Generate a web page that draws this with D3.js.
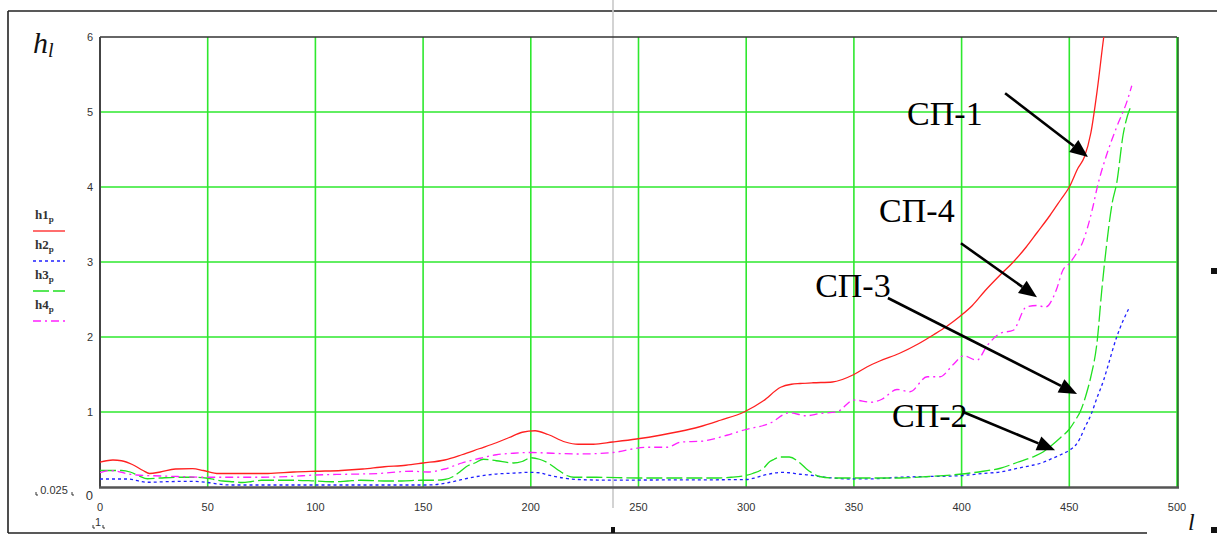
<!DOCTYPE html>
<html><head><meta charset="utf-8">
<script src="https://cdn.jsdelivr.net/npm/d3@7/dist/d3.min.js"></script>
<style>
html,body{margin:0;padding:0;background:#fff;}
svg{display:block;}
</style></head>
<body>
<svg id="c" width="1217" height="535"></svg>
<script>
// ---- data ----
const xTicks = [0,50,100,150,200,250,300,350,400,450,500];
const yTicks = [1,2,3,4,5,6];

const h1X = [0,3,6,10,15,20,23,28,35,43,48,55,65,78,90,100,112,122,132,142,150,160,168,176,184,190,196,202,208,216,222,229,238,249,260,269,278,288,299,308,316,321,325,331,340,350,356,362,371,380,387,393,399,405,411,418,424,430,435,441,446,450,454,457,460,463,466,468];
const h1Y = [0.33,0.35,0.36,0.35,0.30,0.22,0.18,0.20,0.24,0.245,0.22,0.18,0.18,0.18,0.20,0.21,0.22,0.24,0.27,0.29,0.32,0.36,0.43,0.51,0.59,0.66,0.73,0.75,0.70,0.60,0.57,0.57,0.60,0.64,0.69,0.74,0.80,0.89,1.00,1.15,1.33,1.37,1.38,1.39,1.40,1.50,1.60,1.68,1.78,1.91,2.03,2.14,2.27,2.42,2.62,2.83,3.00,3.20,3.39,3.62,3.83,4.00,4.25,4.40,4.72,5.30,6.00,6.40];

const h2X = [0,5,13,18,22,30,42,49,55,60,80,100,120,140,152,158,162,167,175,184,192,199,204,208,215,222,231,250,270,290,300,304,308,312,316,320,325,329,334,340,348,360,371,385,399,410,418,426,433,438,442,446,450,453,455,457,460,463,466,468,472,475,478];
const h2Y = [0.107,0.107,0.107,0.08,0.063,0.07,0.076,0.063,0.04,0.027,0.027,0.027,0.027,0.027,0.027,0.04,0.06,0.093,0.14,0.173,0.185,0.195,0.19,0.16,0.12,0.10,0.093,0.093,0.095,0.097,0.10,0.12,0.156,0.18,0.195,0.19,0.17,0.16,0.14,0.12,0.107,0.11,0.13,0.14,0.15,0.18,0.20,0.25,0.29,0.33,0.38,0.43,0.49,0.56,0.65,0.78,0.96,1.20,1.43,1.62,2.00,2.22,2.40];

const h3X = [0,5,10,14,18,22,28,36,42,49,53,57,62,66,70,75,90,100,109,115,121,132,140,149,155,160,164,167,170,174,178,184,192,196,200,204,208,213,217,220,230,250,270,285,293,299,303,308,311,313,316,320,325,328,331,334,340,350,371,385,399,410,418,426,433,438,442,446,450,453,455,458,460,463,465,467,470,472,475,477,479];
const h3Y = [0.22,0.22,0.22,0.20,0.15,0.11,0.12,0.13,0.13,0.12,0.10,0.08,0.07,0.06,0.07,0.09,0.09,0.08,0.07,0.08,0.09,0.08,0.08,0.09,0.09,0.10,0.14,0.20,0.27,0.32,0.37,0.35,0.32,0.34,0.39,0.37,0.32,0.22,0.15,0.13,0.13,0.12,0.12,0.12,0.13,0.15,0.18,0.25,0.34,0.37,0.40,0.40,0.32,0.24,0.18,0.14,0.12,0.12,0.12,0.14,0.17,0.21,0.25,0.33,0.40,0.47,0.56,0.66,0.77,0.90,1.00,1.25,1.47,1.96,2.60,3.15,3.80,4.05,4.70,4.95,5.10];

const h4X = [0,4,8,12,17,25,36,49,60,75,88,100,115,129,145,152,160,168,176,184,192,200,210,222,238,254,263,270,279,291,299,311,320,328,334,342,350,358,363,370,376,384,390,396,401,407,412,418,424,430,435,439,444,447,450,453,456,461,463,467,472,477,479];
const h4Y = [0.19,0.22,0.21,0.18,0.16,0.15,0.14,0.13,0.13,0.13,0.14,0.16,0.17,0.18,0.21,0.20,0.24,0.32,0.38,0.43,0.45,0.46,0.45,0.44,0.46,0.53,0.53,0.60,0.61,0.69,0.76,0.85,0.99,0.95,0.98,1.00,1.16,1.13,1.17,1.30,1.27,1.47,1.47,1.63,1.75,1.69,1.89,2.05,2.09,2.40,2.42,2.40,2.63,2.89,2.98,3.10,3.25,3.74,4.00,4.40,4.80,5.16,5.35];

const legendNames = ["h1","h2","h3","h4"];
const seriesColors = ["#ff2020","#2020ff","#20e020","#ff20ff"];
const seriesDash = [null,"3,3","16,4","8,4,2,4"];

// annotations: label, label pos (l,h), arrow from (l,h) to (l,h)
const annLabels = ["СП-1","СП-4","СП-3","СП-2"];
const annText = [[374.7,4.83],[361.7,3.53],[332,2.53],[367.7,0.80]];
const annFrom = [[420.2,5.25],[399.7,3.25],[365.8,2.52],[400.7,1.00]];
const annTo   = [[458.7,4.40],[435.0,2.53],[453.6,1.24],[443.4,0.49]];

// ---- drawing ----
const svg = d3.select("#c");
const x = d3.scaleLinear().domain([0,500]).range([100,1177]);
const y = d3.scaleLinear().domain([0,6]).range([487,37]);

// outer frame
svg.append("line").attr("x1",8).attr("x2",1217).attr("y1",11).attr("y2",11).attr("stroke","#222").attr("stroke-width",1.6);
svg.append("line").attr("x1",8).attr("x2",8).attr("y1",11).attr("y2",533).attr("stroke","#222").attr("stroke-width",1.6);
svg.append("line").attr("x1",8).attr("x2",1147).attr("y1",533).attr("y2",533).attr("stroke","#222").attr("stroke-width",1.6);
// seam line
svg.append("line").attr("x1",613).attr("x2",613).attr("y1",0).attr("y2",508).attr("stroke","#c8c8c8").attr("stroke-width",1.6);
svg.append("rect").attr("x",611).attr("y",527).attr("width",4).attr("height",6).attr("fill","#111");
svg.append("rect").attr("x",1211).attr("y",268).attr("width",6).attr("height",6).attr("fill","#111");
svg.append("rect").attr("x",1211).attr("y",527).attr("width",6).attr("height",6).attr("fill","#111");

// grid
const grid = svg.append("g");
grid.selectAll("line.v").data(xTicks.filter(d=>d>0)).join("line")
  .attr("x1",d=>x(d)).attr("x2",d=>x(d)).attr("y1",y(6)).attr("y2",y(0))
  .attr("stroke","#2ee82e").attr("stroke-width",1.6);
grid.selectAll("line.h").data(yTicks.filter(d=>d<6)).join("line")
  .attr("x1",x(0)).attr("x2",x(500)).attr("y1",d=>y(d)).attr("y2",d=>y(d))
  .attr("stroke","#2ee82e").attr("stroke-width",1.6);

// plot border
svg.append("line").attr("x1",x(0)).attr("x2",x(500)).attr("y1",y(6)).attr("y2",y(6)).attr("stroke","#333").attr("stroke-width",1.5);
svg.append("line").attr("x1",x(0)).attr("x2",x(0)).attr("y1",y(6)).attr("y2",y(0)).attr("stroke","#444").attr("stroke-width",2);
svg.append("line").attr("x1",x(500)+1).attr("x2",x(500)+1).attr("y1",y(6)).attr("y2",y(0)).attr("stroke","#1a5a1a").attr("stroke-width",1.5);

// clip
svg.append("clipPath").attr("id","pc").append("rect")
  .attr("x",x(0)).attr("y",y(6)).attr("width",x(500)-x(0)).attr("height",y(0)-y(6));

const line = d3.line().x(d=>x(d[0])).y(d=>y(d[1])).curve(d3.curveMonotoneX);
const series = [[h1X,h1Y],[h2X,h2Y],[h3X,h3Y],[h4X,h4Y]];
const gl = svg.append("g").attr("clip-path","url(#pc)");
series.forEach((s,i)=>{
  const pts = s[0].map((v,j)=>[v,s[1][j]]);
  gl.append("path").attr("d",line(pts)).attr("fill","none")
    .attr("stroke",seriesColors[i]).attr("stroke-width",1.3)
    .attr("stroke-dasharray",seriesDash[i]);
});

// bottom axis line
svg.append("line").attr("x1",x(0)-1).attr("x2",x(500)+2).attr("y1",y(0)+0.5).attr("y2",y(0)+0.5).attr("stroke","#555").attr("stroke-width",2.5);

// tick labels
const tickFont = "Liberation Sans, Arial, sans-serif";
svg.append("g").selectAll("text").data(xTicks).join("text")
  .attr("x",d=>x(d)).attr("y",y(0)+24).attr("text-anchor","middle")
  .attr("font-family",tickFont).attr("font-size",11).attr("fill","#333").text(d=>d);
svg.append("g").selectAll("text").data(yTicks).join("text")
  .attr("x",x(0)-7).attr("y",d=>y(d)+4).attr("text-anchor","end")
  .attr("font-family",tickFont).attr("font-size",11).attr("fill","#333").text(d=>d);
svg.append("text").attr("x",x(0)-7).attr("y",y(0)+13).attr("text-anchor","end")
  .attr("font-family",tickFont).attr("font-size",13).attr("fill","#333").text("0");

// limit markers
svg.append("text").attr("x",54).attr("y",y(0)+7).attr("text-anchor","middle")
  .attr("font-family",tickFont).attr("font-size",11).attr("fill","#333").text("0.025");
svg.append("text").attr("x",x(0)-2).attr("y",y(0)+39).attr("text-anchor","middle")
  .attr("font-family",tickFont).attr("font-size",11).attr("fill","#333").text("1");
const marks = [[36,495],[72,495],[93,528],[103,528]];
svg.append("g").selectAll("path").data(marks).join("path")
  .attr("d",d=>`M${d[0]},${d[1]-3}L${d[0]},${d[1]}L${d[0]+2},${d[1]}`)
  .attr("stroke","#333").attr("fill","none").attr("stroke-width",1);

// axis titles
const ht = svg.append("text").attr("x",33).attr("y",53).attr("font-family","Liberation Serif, Times New Roman, serif")
  .attr("font-style","italic").attr("font-size",30).attr("fill","#111");
ht.append("tspan").text("h");
ht.append("tspan").attr("font-size",20).attr("dy",4).text("l");
svg.append("text").attr("x",1188).attr("y",530).attr("font-family","Liberation Serif, Times New Roman, serif")
  .attr("font-style","italic").attr("font-size",24).attr("fill","#111").text("l");

// legend
const lg = svg.append("g");
legendNames.forEach((n,i)=>{
  const ty = 219 + i*30;
  const t = lg.append("text").attr("x",35).attr("y",ty).attr("font-family","Liberation Serif, Times New Roman, serif")
    .attr("font-size",13).attr("font-weight","bold").attr("fill","#333");
  t.append("tspan").text(n);
  t.append("tspan").attr("font-size",9).attr("dy",3).text("p");
  lg.append("line").attr("x1",33).attr("x2",65).attr("y1",ty+12).attr("y2",ty+12)
    .attr("stroke",seriesColors[i]).attr("stroke-width",1.3).attr("stroke-dasharray",seriesDash[i]);
});

// annotations
const ag = svg.append("g");
annLabels.forEach((lab,i)=>{
  ag.append("text").attr("x",x(annText[i][0])).attr("y",y(annText[i][1]))
    .attr("font-family","Liberation Serif, Times New Roman, serif").attr("font-size",34).attr("fill","#000").text(lab);
  const x1 = x(annFrom[i][0]), y1 = y(annFrom[i][1]);
  const x2 = x(annTo[i][0]), y2 = y(annTo[i][1]);
  const ang = Math.atan2(y2-y1, x2-x1);
  const L = 18, W = 7.5;
  const bx = x2 - L*Math.cos(ang), by = y2 - L*Math.sin(ang);
  ag.append("line").attr("x1",x1).attr("y1",y1).attr("x2",bx).attr("y2",by)
    .attr("stroke","#000").attr("stroke-width",2.6);
  const px = -Math.sin(ang)*W, py = Math.cos(ang)*W;
  ag.append("path").attr("d",`M${x2},${y2}L${bx+px},${by+py}L${bx-px},${by-py}Z`).attr("fill","#000");
});
</script>
</body></html>
